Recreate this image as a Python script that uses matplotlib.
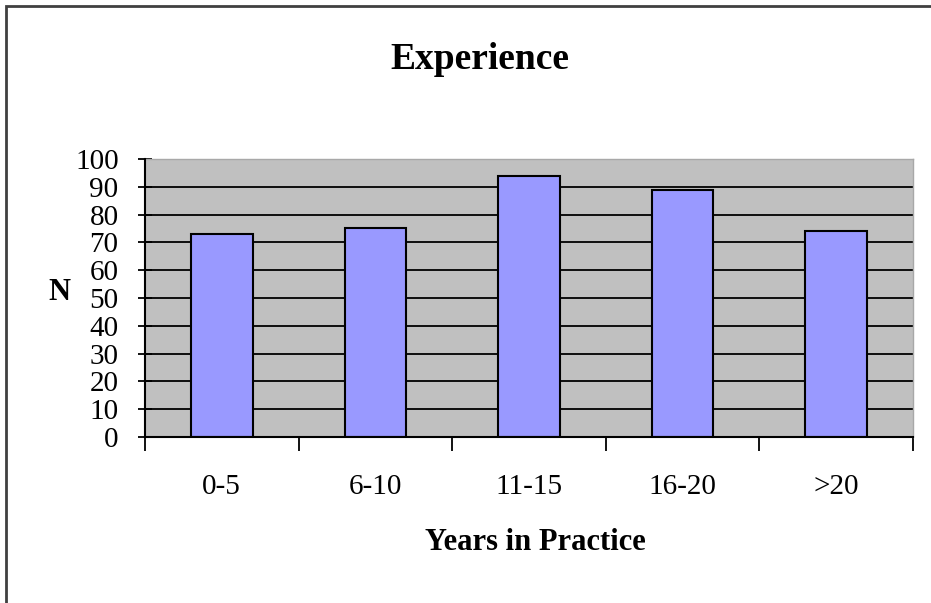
import matplotlib
matplotlib.use("Agg")
import matplotlib.pyplot as plt
from matplotlib.patches import Rectangle
import numpy as np

categories = ["0-5", "6-10", "11-15", "16-20", ">20"]
values = [73, 75, 94, 89, 74]
yticks = [0, 10, 20, 30, 40, 50, 60, 70, 80, 90, 100]
title = "Experience"
xlabel = "Years in Practice"
ylabel = "N"

plt.rcParams['font.family'] = ['Liberation Serif', 'DejaVu Serif']

W, H = 931, 603
fig = plt.figure(figsize=(W / 100, H / 100), dpi=100)
fig.patch.set_facecolor('white')

ax = fig.add_axes([145 / W, 1 - 437 / H, (913 - 145) / W, (437 - 159) / H])
ax.set_facecolor('#c0c0c0')

x = np.arange(len(categories))
for yv in yticks[1:-1]:
    ax.axhline(yv, color='black', lw=1.3, zorder=1)
ax.bar(x, values, width=0.4, color='#9999ff', edgecolor='black', linewidth=1.5, zorder=3)

ax.set_xlim(-0.5, len(categories) - 0.5)
ax.set_ylim(0, 100)

ax.set_yticks(yticks)
ax.set_yticklabels([str(v) for v in yticks], fontsize=21)
ax.tick_params(axis='y', direction='inout', length=10, width=1.3, pad=14)

ax.set_xticks(x)
ax.set_xticklabels(categories, fontsize=21)
ax.set_xticks(np.arange(len(categories) + 1) - 0.5, minor=True)
ax.tick_params(axis='x', which='major', length=0, pad=27)
ax.tick_params(axis='x', which='minor', direction='out', length=10, width=1.3)

for s in ['left', 'bottom']:
    ax.spines[s].set_color('black')
    ax.spines[s].set_linewidth(1.5)
    ax.spines[s].set_zorder(4)
for s in ['top', 'right']:
    ax.spines[s].set_color('#a8a8a8')
    ax.spines[s].set_linewidth(1.0)

fig.text(479.5 / W, 1 - 69 / H, title, ha='center', va='baseline',
         fontsize=27, fontweight='bold')
fig.text(535 / W, 1 - 550 / H, xlabel, ha='center', va='baseline',
         fontsize=22, fontweight='bold')
fig.text(59 / W, 1 - 293 / H, ylabel, ha='center', va='center',
         fontsize=22, fontweight='bold')

border = Rectangle((6 / W, -0.1), 1.2, 1 - 6 / H + 0.1, transform=fig.transFigure,
                   fill=False, edgecolor='#404040', linewidth=2, clip_on=False)
fig.patches.append(border)

fig.savefig("out.png", dpi=100)
